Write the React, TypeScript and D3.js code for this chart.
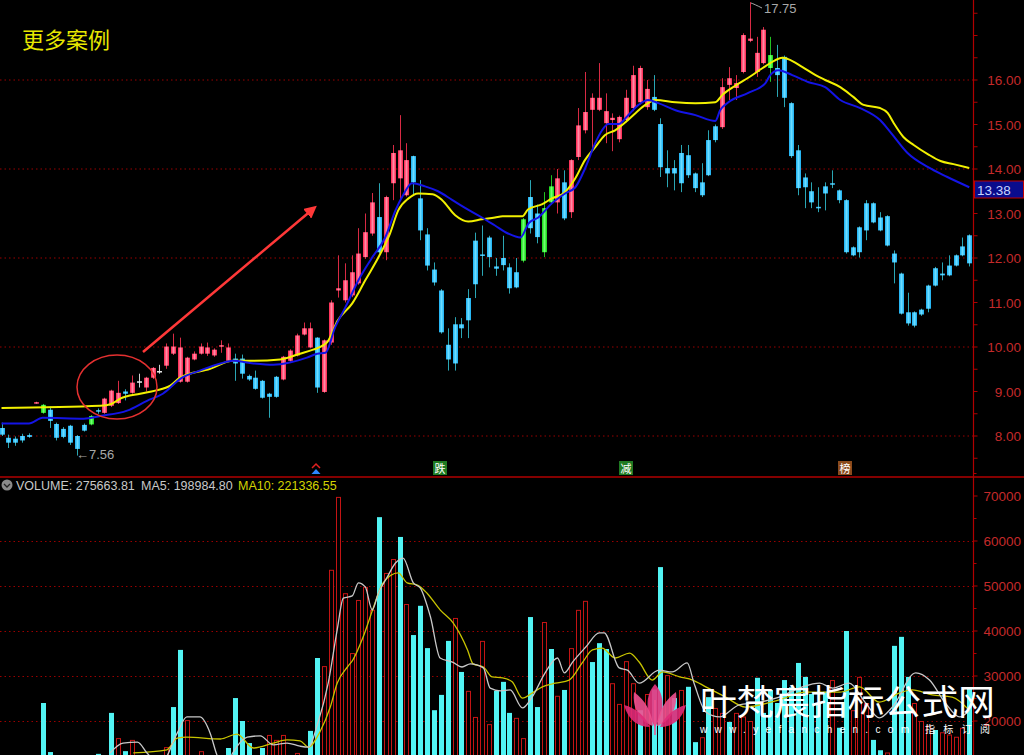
import React from "react";
import * as d3 from "d3";

// ---------- DATA ----------
const candleColors =
  "ccccc" + "r" + "g" + "cccccc" + "g" + "c" + "rrr" + "c" + "r" + "w" + "rr" + "w" +
  "rrrrrrrrrr" + "ccccccc" + "rrrrr" + "c" + "rrrrrrrr" + "c" + "rrrr" +
  "cccccccccccccccc" + "g" + "cc" + "gg" + "r" + "c" + "rrrrrrrrrrrr" +
  "cccccccccc" + "rrrrrrr" + "g" + "ccccccccccccccccccccccccccccc";

const opens = [
  8.18, 7.96, 7.94, 8.0, 8.02, 8.74, 8.52, 8.59, 8.27, 8.16,
  8.23, 8.0, 8.25, 8.26, 8.58, 8.52, 8.68, 8.74, 9.0, 8.97,
  9.23, 9.09, 9.31, 9.46, 9.58, 9.85, 9.22, 9.22, 9.72, 9.85,
  9.85, 9.81, 10.02, 9.69, 9.74, 9.74, 9.35, 9.31, 9.24, 8.95,
  9.33, 9.27, 9.69, 9.81, 10.28, 9.99, 10.21, 8.99, 10.1, 11.27,
  11.05, 11.16, 11.43, 12.02, 12.55, 12.92, 12.13, 13.68, 13.79, 13.41,
  14.29, 13.34, 12.53, 11.74, 11.27, 10.05, 10.51, 10.51, 11.1, 12.39,
  12.08, 12.46, 11.81, 12.0, 11.79, 11.68, 11.94, 13.37, 13.0, 12.13,
  13.25, 13.25, 13.7, 13.03, 14.27, 14.87, 15.33, 15.33, 15.03, 15.1,
  14.67, 15.1, 15.37, 15.5, 15.39, 15.62, 15.01, 14.02, 14.02, 14.36,
  14.31, 13.9, 13.7, 14.65, 14.96, 14.94, 15.89, 15.82, 16.18, 16.88,
  16.18, 16.38, 16.27, 16.27, 16.52, 15.48, 14.42, 13.81, 13.5, 13.15,
  13.61, 13.68, 13.52, 13.3, 12.24, 12.69, 13.23, 13.23, 12.91, 12.94,
  12.1, 11.65, 10.78, 10.78, 10.84, 11.38, 11.77, 11.65, 11.83, 12.06,
  12.26, 12.51,
];
const highs = [
  8.3, 8.03, 7.99, 8.05, 8.06, 8.77, 8.72, 8.66, 8.3, 8.2,
  8.25, 8.02, 8.28, 8.47, 8.62, 8.86, 9.04, 9.24, 9.05, 9.36,
  9.4, 9.33, 9.55, 9.6, 10.08, 10.3, 10.21, 9.78, 9.9, 10.08,
  10.1, 9.97, 10.15, 10.08, 9.85, 9.83, 9.38, 9.47, 9.26, 8.97,
  9.35, 9.8, 9.95, 10.3, 10.55, 10.55, 10.22, 10.17, 11.05, 12.06,
  11.88, 12.06, 12.67, 13.0, 13.46, 13.68, 13.4, 14.54, 15.21, 14.58,
  14.3, 13.75, 12.67, 11.9, 11.3, 10.42, 10.67, 10.65, 11.3, 12.57,
  12.73, 12.5, 12.0, 12.5, 11.88, 12.0, 12.9, 13.75, 13.2, 13.48,
  13.86, 14.0, 13.97, 14.22, 15.37, 16.18, 15.7, 16.38, 15.7, 15.25,
  15.2, 15.78, 16.32, 16.32, 16.0, 16.11, 15.14, 14.42, 14.2, 14.54,
  14.54, 13.92, 14.13, 14.87, 15.0, 16.04, 16.29, 16.11, 17.05, 17.75,
  16.97, 17.19, 16.97, 16.79, 16.55, 15.5, 14.54, 13.9, 13.7, 13.59,
  13.7, 13.97, 13.54, 13.32, 12.26, 12.71, 13.3, 13.25, 13.03, 12.96,
  12.17, 11.67, 11.22, 10.8, 10.86, 11.4, 11.8, 11.9, 12.06, 12.08,
  12.46, 12.53,
];
const lows = [
  8.0, 7.73, 7.78, 7.85, 7.96, 8.73, 8.5, 8.18, 7.9, 7.95,
  7.8, 7.56, 8.1, 8.24, 8.5, 8.5, 8.65, 8.72, 8.8, 8.95,
  9.09, 9.0, 9.28, 9.4, 9.51, 9.82, 9.2, 9.2, 9.7, 9.83,
  9.8, 9.78, 9.87, 9.66, 9.24, 9.29, 9.24, 9.04, 8.84, 8.41,
  8.86, 9.25, 9.67, 9.79, 10.26, 9.97, 8.97, 8.97, 10.05, 11.11,
  11.0, 11.12, 11.4, 11.98, 12.5, 12.1, 11.95, 13.3, 13.3, 13.38,
  13.41, 12.4, 11.72, 11.38, 10.3, 9.47, 9.47, 10.2, 10.2, 11.1,
  11.6, 11.79, 11.6, 11.72, 11.2, 11.32, 11.9, 12.55, 12.33, 12.02,
  13.2, 13.0, 12.85, 12.9, 14.2, 14.8, 14.4, 15.3, 14.58, 14.4,
  14.6, 15.05, 15.3, 15.45, 15.33, 15.3, 13.82, 13.59, 13.52, 13.48,
  13.8, 13.48, 13.37, 13.84, 14.6, 14.9, 15.55, 15.55, 16.15, 16.85,
  16.07, 16.35, 15.96, 15.62, 15.39, 14.25, 13.41, 13.12, 13.12, 13.03,
  13.07, 13.57, 13.23, 12.1, 12.04, 12.01, 12.4, 12.78, 12.6, 12.26,
  11.43, 10.73, 10.48, 10.44, 10.7, 10.78, 11.36, 11.5, 11.59, 11.81,
  12.04, 11.81,
];
const closes = [
  8.03, 7.85, 7.85, 7.9, 7.98, 8.76, 8.7, 8.34, 7.96, 7.98,
  7.85, 7.71, 8.12, 8.45, 8.55, 8.84, 9.02, 8.97, 8.95, 9.2,
  9.23, 9.31, 9.53, 9.46, 10.01, 10.01, 9.99, 9.76, 9.85, 10.01,
  9.99, 9.94, 10.04, 9.99, 9.63, 9.4, 9.27, 9.06, 8.86, 8.88,
  8.88, 9.78, 9.92, 10.26, 10.42, 10.42, 9.09, 10.15, 11.0, 11.32,
  11.5, 11.68, 12.1, 12.58, 13.25, 12.13, 13.37, 14.36, 14.42, 14.2,
  13.7, 12.62, 11.83, 11.45, 10.33, 9.72, 9.63, 10.42, 10.6, 11.41,
  12.05, 12.02, 11.76, 11.84, 11.32, 11.34, 12.87, 12.67, 12.47, 13.12,
  13.61, 13.79, 12.89, 14.2, 14.98, 15.28, 15.6, 15.6, 15.3, 15.15,
  15.17, 15.6, 16.11, 16.27, 15.8, 15.33, 14.04, 13.9, 13.9, 13.68,
  13.86, 13.57, 13.41, 13.86, 14.65, 15.84, 16.04, 15.93, 17.01, 16.93,
  16.61, 17.13, 16.56, 16.11, 15.6, 14.29, 13.57, 13.59, 13.25, 13.13,
  13.45, 13.66, 13.3, 12.13, 12.06, 12.13, 12.62, 12.8, 12.62, 12.28,
  11.9, 10.75, 10.53, 10.48, 10.73, 10.86, 11.38, 11.61, 11.61, 11.83,
  12.06, 11.88,
];

const volumes = [
  9000, 9000, 9000, 9000, 9000, 9000, 24000, 13100, 10000, 10000,
  10000, 10000, 10000, 10000, 12700, 10000, 21800, 16200, 13300, 15800,
  10000, 10000, 10000, 10000, 14200, 23100, 35800, 20200, 10000, 13300,
  10000, 10000, 10000, 14000, 25100, 20000, 15100, 10000, 14000, 16900,
  15800, 16900, 10000, 12900, 10000, 17800, 34000, 32200, 53600, 69800,
  48400, 35100, 46900, 49800, 44700, 65300, 52900, 56000, 60900, 46000,
  39100, 45600, 36200, 22400, 25800, 37800, 42900, 30900, 26700, 20900,
  37800, 19300, 26700, 28700, 21800, 20700, 16200, 43100, 23100, 42000,
  36000, 25600, 26900, 36200, 44700, 46700, 33100, 37300, 36000, 28400,
  23800, 33300, 28400, 22400, 26000, 27000, 54200, 30200, 25100, 26900,
  27600, 15300, 16400, 25300, 22900, 21800, 19800, 21800, 21000, 20000,
  29600, 21800, 26900, 24000, 29100, 27500, 32900, 29800, 26000, 24000,
  26500, 29100, 18500, 40000, 22400, 29800, 24000, 15800, 13500, 13000,
  36700, 38700, 29800, 24000, 20000, 19000, 18000, 17500, 17000, 16500,
  18500, 27500,
];
const volumeColors =
  "cccccccccc" + "cccccrcrcr" + "rrrrrccrrr" + "rrrccccccr" + "rrrrrccrrr" +
  "rrrrrcrrcr" + "ccccccrcrr" + "rrcccrrccr" + "crcrrrcccr" + "rrrcrccrcr" +
  "ccrcrrcrrr" + "cccccccccc" + "crccrrrccr" + "cccrrrcrrr" + "rc";

// price moving averages: [candle index, price]
const maYellow = [
  [0, 8.63], [14.4, 8.68], [16, 8.72], [17.3, 8.84], [20.2, 8.95], [22.4, 9.02], [24.6, 9.13],
  [26, 9.31], [30.4, 9.51], [33.7, 9.69], [36.7, 9.69], [40.6, 9.72], [43.5, 9.85], [45.4, 9.94],
  [47.4, 10.1], [49, 10.6], [51.1, 10.98], [53, 11.5], [54.9, 12.01], [56.6, 12.55], [57.8, 13.07],
  [59.3, 13.34], [60.7, 13.45], [62.8, 13.43], [64.2, 13.3], [66.1, 12.96], [68, 12.82], [70, 12.87],
  [71.9, 12.91], [73, 12.94], [75.9, 12.94], [76.7, 13.09], [78.8, 13.21], [80.2, 13.34], [82.1, 13.48],
  [83.6, 13.79], [85, 14.2], [86.5, 14.49], [87.9, 14.76], [89.4, 14.87], [90.9, 15.05], [92.4, 15.26],
  [93.8, 15.44], [95.3, 15.55], [98.2, 15.5], [101.1, 15.48], [104, 15.5], [105, 15.66], [106.9, 15.87],
  [108.8, 16.05], [110.9, 16.27], [112, 16.38], [113.8, 16.5], [114.6, 16.47], [116.7, 16.29],
  [118.6, 16.11], [120, 16.0], [122.2, 15.84], [124.1, 15.62], [125.6, 15.44], [128, 15.37],
  [129.1, 15.26], [130, 15.03], [131.4, 14.72], [132.9, 14.54], [135, 14.33], [136.8, 14.18],
  [138.7, 14.11], [141, 14.02],
];
const maBlue = [
  [0, 8.28], [4, 8.28], [6, 8.41], [12, 8.39], [14.4, 8.45], [18.3, 8.57], [21.2, 8.79], [23.5, 8.95],
  [26.3, 9.31], [28.9, 9.47], [31.9, 9.63], [33.7, 9.69], [36.7, 9.63], [39.6, 9.6], [42, 9.65],
  [44.5, 9.76], [46, 9.85], [47.2, 9.87], [48.6, 10.44], [50.1, 10.89], [52, 11.5], [54, 12.01],
  [55.9, 12.46], [57.4, 13.07], [58.5, 13.41], [59.8, 13.68], [61.7, 13.61], [63.6, 13.5], [65.7, 13.3],
  [67.6, 13.12], [70, 12.91], [71.9, 12.73], [73.8, 12.55], [75.6, 12.46], [76.8, 12.78], [78.2, 12.91],
  [80.2, 13.23], [82.1, 13.45], [83.6, 13.59], [85.1, 14.04], [86.5, 14.58], [87.5, 14.87], [88.4, 15.01],
  [89.9, 15.01], [91.3, 15.21], [92.8, 15.44], [94.2, 15.55], [95.7, 15.48], [98.2, 15.32], [101.1, 15.21],
  [104, 15.08], [104.7, 15.32], [105.9, 15.5], [108.8, 15.71], [111.3, 15.93], [112, 16.11], [113.2, 16.22],
  [115.2, 16.11], [117.6, 15.95], [120, 15.84], [122.2, 15.55], [125.1, 15.37], [128, 15.1], [129.5, 14.83],
  [132, 14.36], [135, 14.04], [137.8, 13.82], [141, 13.59],
];

// volume moving averages: [candle index, volume]
const volMa5 = [
  [15.8, 12900], [17.7, 15100], [19.8, 15300], [21.2, 12900], [23.1, 10200], [25.6, 17300], [27, 20900],
  [28.9, 20900], [30.4, 17300], [31.4, 12400], [32.6, 9600], [33.7, 12900], [35.8, 16400], [37.7, 16700],
  [39.6, 14700], [41.6, 15100], [43.5, 14400], [44.7, 14200], [46.1, 19600], [47.6, 28400], [48.9, 40200],
  [49.8, 47300], [51.1, 47800], [52, 50700], [53, 49800], [54, 44700], [54.9, 48400], [56.2, 52000],
  [57.4, 55100], [58.5, 56200], [60, 50700], [61, 49600], [62.5, 43100], [63.9, 34000], [65.7, 33100],
  [67.1, 32000], [68.3, 32700], [70.2, 31800], [71.2, 27300], [72.7, 26700], [74.1, 26900], [75.9, 22900],
  [77.3, 25300], [79.2, 30700], [81, 34000], [82, 30700], [83.2, 33100], [85.1, 36400], [87.1, 39600],
  [87.8, 39600], [90, 31800], [91.2, 31300], [92.9, 28400], [95.8, 31300], [97.7, 30900], [99.9, 32900],
  [100.9, 28400], [102.6, 22000], [104.6, 20900], [107.5, 23600], [109.8, 24000], [113.3, 25300],
  [116.7, 27600], [119.2, 28400], [121.1, 27300], [123.5, 28400], [125.9, 24000], [127.9, 20700],
  [129.8, 23100], [133.2, 30700], [135.2, 29100], [137.5, 24000], [139.6, 20900], [141, 22400],
];
const volMa10 = [
  [19.2, 12900], [24.1, 13600], [25.6, 16200], [27, 16400], [31.9, 16000], [34.3, 17100], [36.7, 14000],
  [39.6, 15100], [41.6, 15800], [43.5, 15600], [44.7, 14200], [46.4, 17600], [47.9, 23100], [48.9, 28400],
  [50.4, 32000], [51.2, 33600], [52.7, 38700], [54.2, 45300], [55.6, 50700], [57.8, 52900], [59.1, 50700],
  [60.6, 50200], [62, 48400], [63.9, 44700], [65.8, 41800], [67.9, 35800], [68.7, 32700], [70.2, 32000],
  [71.5, 29800], [73, 29600], [74.4, 28700], [75.9, 25100], [77.3, 26200], [78.8, 27600], [80.7, 28400],
  [82.7, 29100], [84.6, 32900], [86.1, 35800], [87.5, 36200], [89.4, 34000], [91.5, 35100], [92.9, 33100],
  [94.8, 29100], [96.3, 30900], [98.8, 29800], [100.7, 29100], [102.6, 27600], [105.5, 25300],
  [108.4, 23100], [113.3, 24700], [117.1, 26400], [122.1, 26400], [125, 27600], [127.9, 24200],
  [130.8, 26200], [132.7, 26900], [135.6, 25800], [138.5, 25300], [141, 22400],
];

const priceTicks = [8, 9, 10, 11, 12, 13, 14, 15, 16];
const priceGrid = [8, 10, 12, 14, 16];
const volumeTicks = [20000, 30000, 40000, 50000, 60000, 70000];
const volumeGrid = [20000, 30000, 40000, 50000, 60000];

const titleText = "更多案例";
const volumeLabel = "VOLUME: 275663.81";
const ma5Label = "MA5: 198984.80";
const ma10Label = "MA10: 221336.55";
const lastPriceLabel = "13.38";
const highLabel = "17.75";
const lowLabel = "←7.56";

// ---------- COMPONENT ----------
const FONT = "'Liberation Sans', Arial, sans-serif";
const CJK = "'Noto Sans CJK SC', 'Noto Sans', sans-serif";

export default function App() {
  const N = opens.length;
  const AXIS_X = 973.5;
  const x = d3.scaleLinear().domain([0, N - 1]).range([1.5, 969.3]);
  const yP = d3.scaleLinear().domain([8, 16]).range([436, 80]);
  const yV = d3.scaleLinear().domain([20000, 70000]).range([721, 496]);

  const priceLine = d3
    .line<number[]>()
    .x((d) => x(d[0]))
    .y((d) => yP(d[1]))
    .curve(d3.curveMonotoneX);
  const volLine = d3
    .line<number[]>()
    .x((d) => x(d[0]))
    .y((d) => yV(d[1]))
    .curve(d3.curveMonotoneX);

  const bodyFill: Record<string, string> = {
    r: "url(#gr)",
    c: "url(#gc)",
    g: "url(#gg)",
    w: "#e8e8e8",
  };
  const wickColor: Record<string, string> = {
    r: "#d82a44",
    c: "#2aa6b4",
    g: "#22c022",
    w: "#d0d0d0",
  };

  const fmt2 = d3.format(".2f");
  const minorTicks = d3.range(7.5, 17.6, 0.5);

  return (
    <div style={{ position: "fixed", left: 0, top: 0, width: 1024, height: 755, background: "#000" }}>
      <svg width={1024} height={755} style={{ display: "block", background: "#000" }}>
        <defs>
          <linearGradient id="gr" x1="0" x2="1" y1="0" y2="0">
            <stop offset="0" stopColor="#ff1f4a" />
            <stop offset="0.5" stopColor="#ff8aa6" />
            <stop offset="1" stopColor="#ff1f4a" />
          </linearGradient>
          <linearGradient id="gc" x1="0" x2="1" y1="0" y2="0">
            <stop offset="0" stopColor="#17aef2" />
            <stop offset="0.5" stopColor="#6cdcff" />
            <stop offset="1" stopColor="#17aef2" />
          </linearGradient>
          <linearGradient id="gg" x1="0" x2="1" y1="0" y2="0">
            <stop offset="0" stopColor="#10d810" />
            <stop offset="0.5" stopColor="#70ff70" />
            <stop offset="1" stopColor="#10d810" />
          </linearGradient>
          <clipPath id="priceClip">
            <rect x={0} y={0} width={AXIS_X} height={476} />
          </clipPath>
          <clipPath id="volClip">
            <rect x={0} y={478} width={AXIS_X} height={277} />
          </clipPath>
          <marker id="arrowHead" viewBox="0 0 10 10" refX="6" refY="5" markerWidth="5" markerHeight="5" orient="auto">
            <path d="M0,0 L10,5 L0,10 Z" fill="#ff3838" />
          </marker>
        </defs>

        {/* price grid */}
        {priceGrid.map((p) => (
          <line key={"pg" + p} x1={0} x2={AXIS_X} y1={yP(p)} y2={yP(p)} stroke="#9a0000" strokeDasharray="1.5 3" strokeWidth={1} />
        ))}
        {/* volume grid */}
        {volumeGrid.map((v) => (
          <line key={"vg" + v} x1={0} x2={AXIS_X} y1={Math.round(yV(v)) + 0.5} y2={Math.round(yV(v)) + 0.5} stroke="#9a0000" strokeDasharray="1.5 3" strokeWidth={1} />
        ))}

        {/* axes frame */}
        <line x1={AXIS_X} x2={AXIS_X} y1={0} y2={755} stroke="#b00000" strokeWidth={1.2} />
        <line x1={0} x2={1024} y1={477} y2={477} stroke="#b00000" strokeWidth={1.5} />

        {/* price axis ticks & labels */}
        {minorTicks.map((p) => (
          <line key={"mt" + p} x1={AXIS_X} x2={AXIS_X + 4} y1={yP(p)} y2={yP(p)} stroke="#b00000" strokeWidth={1} />
        ))}
        {priceTicks.map((p) => (
          <text key={"pt" + p} x={1021} y={yP(p) + 5} textAnchor="end" fontFamily={FONT} fontSize={13.5} fill="#c42a2a">
            {fmt2(p)}
          </text>
        ))}
        {/* volume axis labels */}
        {volumeTicks.map((v) => (
          <g key={"vt" + v}>
            <line x1={AXIS_X} x2={AXIS_X + 4} y1={yV(v)} y2={yV(v)} stroke="#b00000" />
            <line x1={AXIS_X} x2={AXIS_X + 3} y1={yV(v + 5000)} y2={yV(v + 5000)} stroke="#b00000" />
            <text x={1021} y={yV(v) + 5} textAnchor="end" fontFamily={FONT} fontSize={13.5} fill="#c42a2a">
              {v}
            </text>
          </g>
        ))}

        {/* candles */}
        <g clipPath="url(#priceClip)">
          {opens.map((o, i) => {
            const c = closes[i];
            const k = candleColors[i];
            const cx = Math.round(x(i));
            const top = yP(Math.max(o, c));
            const bot = yP(Math.min(o, c));
            return (
              <g key={"c" + i}>
                <line x1={cx + 0.5} x2={cx + 0.5} y1={yP(highs[i])} y2={yP(lows[i])} stroke={wickColor[k]} strokeWidth={1} />
                <rect x={cx - 2} y={top} width={5} height={Math.max(1.5, bot - top)} fill={bodyFill[k]} />
              </g>
            );
          })}
          {/* moving averages */}
          <path d={priceLine(maYellow) || ""} fill="none" stroke="#f2f000" strokeWidth={2} />
          <path d={priceLine(maBlue) || ""} fill="none" stroke="#1414e6" strokeWidth={2} />
        </g>

        {/* title */}
        <text x={22} y={48} fontFamily={CJK} fontSize={22} fill="#e8e800">
          {titleText}
        </text>

        {/* red annotation: ellipse and arrow */}
        <ellipse cx={117} cy={387} rx={40} ry={32} fill="none" stroke="#e43030" strokeWidth={1.5} />
        <line x1={143} y1={352} x2={313} y2={209} stroke="#ff3838" strokeWidth={2.5} markerEnd="url(#arrowHead)" />

        {/* high / low labels */}
        <path d={`M${Math.round(x(109)) + 1},3 Q${Math.round(x(109)) + 4},4 ${Math.round(x(109)) + 12},8`} fill="none" stroke="#a8a8a8" strokeWidth={1} />
        <text x={764} y={13} fontFamily={FONT} fontSize={13} fill="#a8a8a8">
          {highLabel}
        </text>
        <text x={76} y={459} fontFamily={FONT} fontSize={13} fill="#a8a8a8">
          {lowLabel}
        </text>

        {/* last value box */}
        <rect x={974.5} y={181} width={49} height={17} fill="#0a0c8c" stroke="#c00000" strokeWidth={1} />
        <text x={977} y={194.5} fontFamily={FONT} fontSize={13.5} fill="#c8d4ff">
          {lastPriceLabel}
        </text>

        {/* bottom markers */}
        <path d="M312,468 L316,464 L320,468" fill="none" stroke="#e02020" strokeWidth={1.5} />
        <path d="M311.5,474 L316,469 L320.5,474 Z" fill="#2a86ff" />
        <rect x={433} y={461} width={14} height={14} fill="#1f7a22" />
        <text x={440} y={472.5} textAnchor="middle" fontFamily={CJK} fontSize={11} fill="#ffffff">跌</text>
        <rect x={619} y={461} width={14} height={14} fill="#1f7a22" />
        <text x={626} y={472.5} textAnchor="middle" fontFamily={CJK} fontSize={11} fill="#ffffff">减</text>
        <rect x={838} y={461} width={14} height={14} fill="#8a4a1c" />
        <text x={845} y={472.5} textAnchor="middle" fontFamily={CJK} fontSize={11} fill="#ffffff">榜</text>

        {/* volume bars */}
        <g clipPath="url(#volClip)">
          {volumes.map((v, i) => {
            const cx = Math.round(x(i));
            const top = yV(v);
            const k = volumeColors[i];
            return k === "c" ? (
              <rect key={"v" + i} x={cx - 2} y={top} width={5} height={Math.max(0, 760 - top)} fill="#52f4f4" />
            ) : (
              <rect key={"v" + i} x={cx - 1.5} y={top + 0.5} width={4} height={Math.max(0, 760 - top)} fill="#000" stroke="#c41414" strokeWidth={1} />
            );
          })}
          <path d={volLine(volMa10) || ""} fill="none" stroke="#c8c400" strokeWidth={1.3} />
          <path d={volLine(volMa5) || ""} fill="none" stroke="#c8c8c8" strokeWidth={1.3} />
        </g>

        {/* volume title */}
        <circle cx={7} cy={485} r={5.5} fill="#8a8a8a" />
        <path d="M4,484 L7,487 L10,484" fill="none" stroke="#222" strokeWidth={1.3} />
        <text x={16} y={490} fontFamily={FONT} fontSize={12.5} fill="#c8c8c8">
          {volumeLabel}
        </text>
        <text x={141} y={490} fontFamily={FONT} fontSize={12.5} fill="#c8c8c8">
          {ma5Label}
        </text>
        <text x={238} y={490} fontFamily={FONT} fontSize={12.5} fill="#d4d400">
          {ma10Label}
        </text>

        {/* watermark */}
        <g>
          <path d="M655,727 C645,712 645,695 655,684 C665,695 665,712 655,727 Z" fill="#e8357f" opacity={0.9} />
          <path d="M653,726 C640,722 632,708 634,692 C645,700 652,712 653,726 Z" fill="#f0508f" opacity={0.9} />
          <path d="M657,726 C670,722 678,708 676,692 C665,700 658,712 657,726 Z" fill="#f0508f" opacity={0.9} />
          <path d="M650,727 C638,727 628,720 624,705 C636,708 645,716 650,727 Z" fill="#e02a78" opacity={0.9} />
          <path d="M660,727 C672,727 682,720 686,705 C674,708 665,716 660,727 Z" fill="#e02a78" opacity={0.9} />
          <line x1={655} x2={655} y1={700} y2={735} stroke="#f0508f" strokeWidth={1.5} />
          <text x={700} y={715} fontFamily={CJK} fontSize={35} fill="#ffffff" textLength={295} lengthAdjust="spacingAndGlyphs">
            叶梵宸指标公式网
          </text>
          <text x={700} y={733} fontFamily={FONT} fontSize={10} fill="#ffffff" textLength={209} lengthAdjust="spacing">
            www.yefanchen.com
          </text>
          <text x={925} y={733} fontFamily={CJK} fontSize={10} fill="#ffffff" textLength={65} lengthAdjust="spacing">
            指标订阅
          </text>
        </g>
      </svg>
    </div>
  );
}
